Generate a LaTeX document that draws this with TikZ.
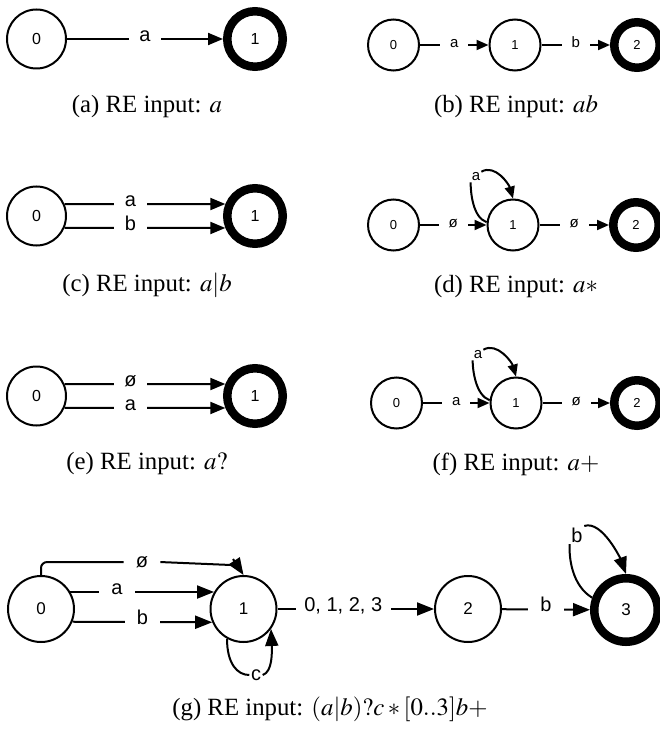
\documentclass[tikz,border=0pt]{standalone}
\usepackage{mathptmx}
\usepackage{fontspec}
\setmainfont{Liberation Serif}
\newfontfamily\lsans{Liberation Sans}
\usetikzlibrary{arrows.meta}
\begin{document}
\begin{tikzpicture}[x=1pt,y=-1pt,
  st/.style={circle,draw,fill=white,line width=2pt,inner sep=0pt},
  fin/.style={st,line width=8.5pt},
  nA/.style={font=\fontsize{16}{16}\selectfont\lsans},
  nB/.style={font=\fontsize{13}{13}\selectfont\lsans},
  nG/.style={font=\fontsize{17}{17}\selectfont\lsans},
  elA/.style={fill=white,anchor=mid,inner ysep=1pt,inner xsep=10.5pt,font=\fontsize{20}{20}\selectfont\lsans},
  elB/.style={fill=white,anchor=mid,inner ysep=1pt,inner xsep=10pt,font=\fontsize{15}{15}\selectfont\lsans},
  elG/.style={fill=white,anchor=mid,inner ysep=1pt,inner xsep=12pt,font=\fontsize{20}{20}\selectfont\lsans},
  lpB/.style={inner sep=1pt,font=\fontsize{15}{15}\selectfont\lsans},
  lpG/.style={inner sep=1.5pt,font=\fontsize{20}{20}\selectfont\lsans},
  eA/.style={line width=2pt,-{Triangle[length=15pt,width=12pt]}},
  eB/.style={line width=2pt,-{Triangle[length=12pt,width=10pt]}},
  eG/.style={line width=2pt,-{Triangle[length=17pt,width=13pt]}},
  ln/.style={line width=2pt},
  capt/.style={anchor=base,font=\fontsize{24.8}{28}\selectfont}]
\useasboundingbox (0,0) rectangle (660,730);

% (a)
\node[st,nA,minimum size=59pt] (a0) at (36.5,39) {0};
\node[fin,nA,minimum size=55.5pt] (a1) at (255,39) {1};
\draw[eA] (a0) -- node[elA]{a} (a1);
\node[capt] (ca) at (147,113) {(a) RE input: $a$};

% (b)
\node[st,nB,minimum size=51pt] (b0) at (393.5,45) {0};
\node[st,nB,minimum size=51pt] (b1) at (515,45) {1};
\node[fin,nB,minimum size=45.5pt] (b2) at (637,45) {2};
\draw[eB] (b0) -- node[elB]{a} (b1);
\draw[eB] (b1) -- node[elB]{b} (b2);
\node[capt] (cb) at (516,113) {(b) RE input: $ab$};

% (c)
\node[st,nA,minimum size=59pt] (c0) at (36.5,216) {0};
\node[fin,nA,minimum size=55.5pt] (c1) at (255,216) {1};
\draw[eA] (c0.23) -- node[elA,pos=0.41]{a} (c1.158);
\draw[eA] (c0.-23) -- node[elA,pos=0.41]{b} (c1.-158);
\node[capt] (cc) at (147,291) {(c) RE input: $a|b$};

% (d)
\node[st,nB,minimum size=51pt] (d0) at (393.5,225) {0};
\node[st,nB,minimum size=51pt] (d1) at (513,225) {1};
\node[fin,nB,minimum size=45.5pt] (d2) at (636,225) {2};
\draw[eB] (d0) -- node[elB]{ø} (d1);
\draw[eB] (d1) -- node[elB]{ø} (d2);
\node[lpB] (da) at (476,177) {a};
\draw[ln] (d1.174) .. controls +(-14,-5) and +(0,10) .. (da.south west);
\draw[eB] (da.north east) .. controls +(14,-8) and +(-4,-14) .. (d1.north);
\node[capt] (cd) at (516,292) {(d) RE input: $a*$};

% (e)
\node[st,nA,minimum size=59pt] (e0) at (36.5,396) {0};
\node[fin,nA,minimum size=55.5pt] (e1) at (255,396) {1};
\draw[eA] (e0.23) -- node[elA,pos=0.41]{ø} (e1.158);
\draw[eA] (e0.-23) -- node[elA,pos=0.41]{a} (e1.-158);
\node[capt] (ce) at (147,469) {(e) RE input: $a?$};

% (f)
\node[st,nB,minimum size=51pt] (f0) at (396.5,403) {0};
\node[st,nB,minimum size=51pt] (f1) at (516,403) {1};
\node[fin,nB,minimum size=45.5pt] (f2) at (637,403) {2};
\draw[eB] (f0) -- node[elB]{a} (f1);
\draw[eB] (f1) -- node[elB]{ø} (f2);
\node[lpB] (fa) at (478,355) {a};
\draw[ln] (f1.174) .. controls +(-14,-5) and +(0,10) .. (fa.south west);
\draw[eB] (fa.north east) .. controls +(14,-8) and +(-4,-14) .. (f1.north);
\node[capt] (cf) at (516,470) {(f) RE input: $a+$};

% (g)
\node[st,nG,minimum size=66pt] (g0) at (41,609) {0};
\node[st,nG,minimum size=66pt] (g1) at (243.5,609) {1};
\node[st,nG,minimum size=66pt] (g2) at (468,609) {2};
\node[fin,nG,minimum size=63.5pt] (g3) at (626,610) {3};
\node[elG] (gz) at (142,565) {ø};
\coordinate (gzk) at (231,565);
\coordinate (gzt) at (233,559);
\draw[ln,rounded corners=6pt] (g0.north) |- (gz.west);
\draw[ln] (gz.east) -- (gzk);
\draw[eG] (gzt) -- (g1.north);
\draw[eG] (g0.30) -- node[elG,pos=0.324]{a} (g1.150);
\draw[eG] (g0.-22.5) -- node[elG,pos=0.5]{b} (g1.-157.5);
\draw[eG] (g1) -- node[elG,inner xsep=8.5pt,pos=0.42]{0, 1, 2, 3} (g2);
\draw[eG] (g2) -- node[elG]{b} (g3);
\node[lpG] (gc) at (256,675) {c};
\draw[ln] (g1.241) .. controls +(0,25) and +(-12,0) .. (gc.west);
\draw[eG] (gc.east) .. controls +(10,-3) and +(1,22) .. (g1.-36);
\node[lpG] (gb) at (577,535) {b};
\draw[ln] (g3.160) .. controls +(-20,-12) and +(-1,14) .. (gb.south west);
\draw[eG] (gb.north east) .. controls +(18,-6) and +(-5,-14) .. (g3.north);
\node[capt] (cg) at (330,715) {(g) RE input: $(a|b)?c*[0..3]b+$};
\end{tikzpicture}
\end{document}
